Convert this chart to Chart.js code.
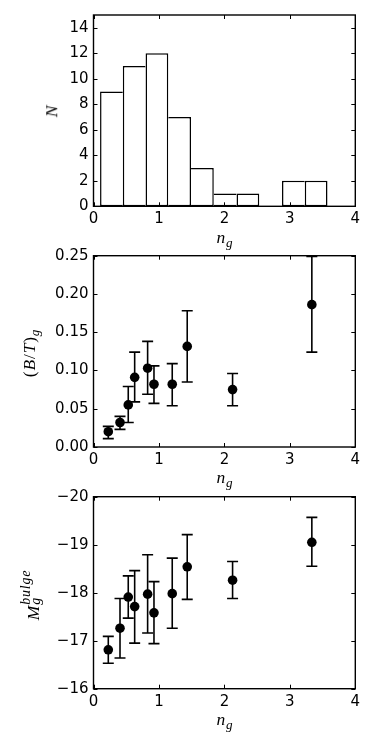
<!DOCTYPE html>
<html>
<head>
<meta charset="utf-8">
<script src="https://cdn.jsdelivr.net/npm/chart.js@4/dist/chart.umd.min.js"></script>
<style>
html,body{margin:0;padding:0;background:#fff;}
#wrap{position:relative;width:382px;height:749px;overflow:hidden;background:#fff;}
#wrap canvas{position:absolute;left:0;}
.lab{position:absolute;font-family:"Liberation Serif","DejaVu Serif",serif;font-style:italic;font-size:17.5px;letter-spacing:0.8px;color:#000;white-space:nowrap;line-height:1;transform:translate(-50%,-50%);}
.rot{transform:translate(-50%,-50%) rotate(-90deg);}
.lab .sb{font-size:0.75em;position:relative;top:0.3em;}
.lab .up{font-style:normal;}
.lab .ss{display:inline-flex;flex-direction:column;font-size:0.8em;line-height:0.72;vertical-align:9px;margin-left:0px;}
</style>
</head>
<body>
<div id="wrap">
  <canvas id="c1" width="382" height="240" style="top:0px"></canvas>
  <canvas id="c2" width="382" height="250" style="top:240px"></canvas>
  <canvas id="c3" width="382" height="269" style="top:480px"></canvas>

  <div class="lab rot" style="left:52px;top:111px;">N</div>
  <div class="lab" style="left:225px;top:238px;">n<span class="sb">g</span></div>

  <div class="lab rot" style="left:30px;top:353px;"><span class="up">(</span>B<span class="up">/</span>T<span class="up">)</span><span class="sb">g</span></div>
  <div class="lab" style="left:225px;top:478px;">n<span class="sb">g</span></div>

  <div class="lab rot" style="left:32px;top:595px;">M<span class="ss"><span>bulge</span><span>g</span></span></div>
  <div class="lab" style="left:225px;top:720px;">n<span class="sb">g</span></div>
</div>
<script>
// ---------------- data ----------------
// Panel 1: histogram of n_g
const binEdges  = [0.100, 0.448, 0.795, 1.143, 1.490, 1.838, 2.185, 2.533, 2.880, 3.228, 3.575];
const binCounts = [9, 11, 12, 7, 3, 1, 1, 0, 2, 2];
const histYTicks = [0, 2, 4, 6, 8, 10, 12, 14];
const xTicks = [0, 1, 2, 3, 4];

// Panels 2 and 3: per-bin means with error bars
const ng    = [0.226, 0.405, 0.531, 0.629, 0.827, 0.924, 1.203, 1.432, 2.125, 3.336];
const btVal = [0.020, 0.032, 0.055, 0.091, 0.103, 0.082, 0.082, 0.1315, 0.075, 0.186];
const btLo  = [0.011, 0.023, 0.032, 0.059, 0.069, 0.057, 0.054, 0.085, 0.054, 0.124];
const btHi  = [0.027, 0.040, 0.079, 0.124, 0.138, 0.106, 0.109, 0.178, 0.096, 0.249];
const btYTicks = [0, 0.05, 0.10, 0.15, 0.20, 0.25];

const magVal = [-16.81, -17.26, -17.91, -17.71, -17.97, -17.58, -17.98, -18.54, -18.26, -19.05];
const magLo  = [-16.53, -16.64, -17.47, -16.95, -17.16, -16.94, -17.26, -17.86, -17.88, -18.55];
const magHi  = [-17.09, -17.88, -18.35, -18.46, -18.79, -18.23, -18.72, -19.21, -18.65, -19.57];
const magYTicks = [-20, -19, -18, -17, -16];

// ---------------- helpers ----------------
const TICK_FONT = {family: '"DejaVu Sans", sans-serif', size: 15};
const PLOT_LEFT = 93.5, PLOT_RIGHT = 355.3, W = 382;

const framePlugin = {
  id: 'frameTicks',
  afterDraw(chart) {
    const {ctx, chartArea: a, scales: {x, y}} = chart;
    ctx.save();
    ctx.strokeStyle = '#000';
    ctx.lineWidth = 1;
    ctx.beginPath();
    x.ticks.forEach(t => {
      const px = Math.round(x.getPixelForValue(t.value)) + 0.5;
      ctx.moveTo(px, a.bottom); ctx.lineTo(px, a.bottom - 4);
      ctx.moveTo(px, a.top); ctx.lineTo(px, a.top + 4);
    });
    y.ticks.forEach(t => {
      const py = Math.round(y.getPixelForValue(t.value)) + 0.5;
      ctx.moveTo(a.left, py); ctx.lineTo(a.left + 4, py);
      ctx.moveTo(a.right, py); ctx.lineTo(a.right - 4, py);
    });
    ctx.stroke();
    ctx.lineWidth = 1.4;
    ctx.strokeRect(a.left, a.top, a.right - a.left, a.bottom - a.top);
    ctx.restore();
  }
};

const errorBarPlugin = {
  id: 'errorBars',
  beforeDatasetsDraw(chart) {
    const {ctx, chartArea: a, scales: {x, y}} = chart;
    ctx.save();
    ctx.beginPath();
    ctx.rect(a.left, a.top - 1, a.right - a.left, a.bottom - a.top + 2);
    ctx.clip();
    ctx.strokeStyle = '#000';
    ctx.lineWidth = 1.6;
    chart.data.datasets.forEach(ds => {
      if (!ds.errLo) return;
      ds.data.forEach((p, i) => {
        const px = x.getPixelForValue(p.x);
        const y1 = y.getPixelForValue(ds.errLo[i]);
        const y2 = y.getPixelForValue(ds.errHi[i]);
        ctx.beginPath();
        ctx.moveTo(px, y1); ctx.lineTo(px, y2);
        ctx.moveTo(px - 5.5, y1); ctx.lineTo(px + 5.5, y1);
        ctx.moveTo(px - 5.5, y2); ctx.lineTo(px + 5.5, y2);
        ctx.stroke();
      });
    });
    ctx.restore();
  }
};

function xScale(canvasH, plotBottom) {
  return {
    type: 'linear', min: 0, max: 4, bounds: 'data', offset: false,
    grid: {display: false, drawTicks: false, offset: false}, border: {display: false},
    afterBuildTicks: s => { s.ticks = xTicks.map(v => ({value: v})); },
    afterFit: s => { s.height = canvasH - plotBottom; },
    ticks: {font: TICK_FONT, color: '#000', padding: 4, maxRotation: 0,
            callback: v => String(v)}
  };
}
function yScale(min, max, ticks, fmt, reverse) {
  return {
    type: 'linear', min, max, bounds: 'data', reverse: !!reverse,
    grid: {display: false, drawTicks: false}, border: {display: false},
    afterBuildTicks: s => { s.ticks = ticks.map(v => ({value: v})); },
    afterFit: s => { s.width = PLOT_LEFT; },
    ticks: {font: TICK_FONT, color: '#000', padding: 5, callback: fmt}
  };
}
function baseOptions(top, canvasH, plotBottom, ys) {
  return {
    responsive: false, animation: false, devicePixelRatio: 1,
    layout: {padding: {left: 0, right: W - PLOT_RIGHT, top: top, bottom: 0}},
    plugins: {legend: {display: false}, tooltip: {enabled: false}},
    scales: {x: xScale(canvasH, plotBottom), y: ys}
  };
}

// ---------------- panel 1: histogram ----------------
const centers = binCounts.map((c, i) => (binEdges[i] + binEdges[i + 1]) / 2);
const BW = 1.5;
new Chart(document.getElementById('c1'), {
  type: 'bar',
  data: {
    datasets: [{
      data: centers.map((c, i) => ({x: c, y: binCounts[i]})),
      backgroundColor: '#fff',
      borderColor: '#000',
      borderSkipped: false,
      inflateAmount: 0,
      barPercentage: 1, categoryPercentage: 1,
      borderWidth: ctx => {
        const i = ctx.dataIndex, c = binCounts[i];
        const prev = i > 0 ? binCounts[i - 1] : 0;
        const next = i < binCounts.length - 1 ? binCounts[i + 1] : 0;
        return {top: BW, bottom: BW,
                left: prev > c ? 0 : BW,
                right: next > c || (next === c && c > 0) ? 0 : BW};
      }
    }]
  },
  options: baseOptions(15, 240, 206.3,
    yScale(0, 15, histYTicks, v => String(v))),
  plugins: [framePlugin]
});

// ---------------- panel 2: (B/T)_g ----------------
new Chart(document.getElementById('c2'), {
  type: 'scatter',
  data: {
    datasets: [{
      data: ng.map((x, i) => ({x, y: btVal[i]})),
      errLo: btLo, errHi: btHi,
      pointRadius: 4.8, pointBackgroundColor: '#000', pointBorderWidth: 0,
      showLine: false
    }]
  },
  options: baseOptions(15.7, 250, 207,
    yScale(0, 0.25, btYTicks, v => Number(v).toFixed(2))),
  plugins: [errorBarPlugin, framePlugin]
});

// ---------------- panel 3: M_g^bulge ----------------
new Chart(document.getElementById('c3'), {
  type: 'scatter',
  data: {
    datasets: [{
      data: ng.map((x, i) => ({x, y: magVal[i]})),
      errLo: magLo, errHi: magHi,
      pointRadius: 4.8, pointBackgroundColor: '#000', pointBorderWidth: 0,
      showLine: false
    }]
  },
  options: baseOptions(16.7, 269, 208.7,
    yScale(-20, -16, magYTicks, v => (v < 0 ? '\u2212' : '') + Math.abs(v), true)),
  plugins: [errorBarPlugin, framePlugin]
});
</script>
</body>
</html>
